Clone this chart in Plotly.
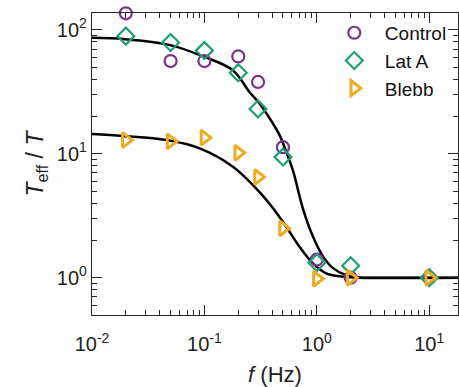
import plotly.graph_objects as go

# ---- data ----
freq = [0.02, 0.05, 0.1, 0.2, 0.3, 0.5, 1, 2, 10]
control = [136, 56, 56, 61, 38, 11.3, 1.4, 1.0, 1.0]
lat_a = [89, 79, 68, 45, 23, 9.4, 1.32, 1.25, 1.0]
blebb = [12.9, 12.6, 13.5, 10.2, 6.5, 2.5, 0.98, 1.0, 1.0]

# fitted curves
fit_hi_f = [0.01, 0.01975, 0.0495, 0.0986, 0.1783, 0.2523, 0.3095, 0.3797, 0.4657,
            0.5159, 0.611, 0.7497, 0.9196, 1.128, 1.384, 1.82, 2.388, 3.594, 18]
fit_hi_y = [86.2, 84.1, 75.3, 60.8, 47.3, 31.4, 25.5, 19.4, 14.2,
            11.3, 7.4, 3.65, 2.17, 1.50, 1.20, 1.05, 1.006, 1.0, 1.0]
fit_lo_f = [0.01, 0.01895, 0.046, 0.0908, 0.1794, 0.3095, 0.4063, 0.5341, 0.7009,
            0.9196, 1.209, 1.697, 2.388, 18]
fit_lo_y = [14.42, 13.89, 12.90, 11.05, 7.86, 4.91, 3.65, 2.58, 1.78,
            1.31, 1.085, 1.02, 1.0, 1.0]

x_tickvals = [0.01, 0.1, 1, 10]
x_ticktext = ["10<sup>-2</sup>", "10<sup>-1</sup>", "10<sup>0</sup>", "10<sup>1</sup>"]
y_tickvals = [1, 10, 100]
y_ticktext = ["10<sup>0</sup>", "10<sup>1</sup>", "10<sup>2</sup>"]

PURPLE = "#7E2F8E"
GREEN = "#1F9E78"
ORANGE = "#EFAA22"
AX = "#262626"
FONT = "Liberation Sans, Arial, Helvetica, sans-serif"

fig = go.Figure()
fig.add_trace(go.Scatter(x=fit_hi_f, y=fit_hi_y, mode="lines", line=dict(color="black", width=2.5, shape="spline"),
                         showlegend=False, hoverinfo="skip"))
fig.add_trace(go.Scatter(x=fit_lo_f, y=fit_lo_y, mode="lines", line=dict(color="black", width=2.5, shape="spline"),
                         showlegend=False, hoverinfo="skip"))
fig.add_trace(go.Scatter(x=freq, y=control, mode="markers", name="\u00a0\u00a0Control", cliponaxis=False,
                         marker=dict(symbol="circle-open", size=12, color=PURPLE, line=dict(width=2.2, color=PURPLE))))
fig.add_trace(go.Scatter(x=freq, y=lat_a, mode="markers", name="\u00a0\u00a0Lat A", cliponaxis=False,
                         marker=dict(symbol="diamond-open", size=13, color=GREEN, line=dict(width=2.2, color=GREEN))))
fig.add_trace(go.Scatter(x=freq, y=blebb, mode="markers", name="\u00a0\u00a0Blebb", cliponaxis=False,
                         marker=dict(symbol="triangle-right-open", size=13, color=ORANGE, line=dict(width=3, color=ORANGE))))

axis_common = dict(
    type="log", showline=True, linecolor=AX, linewidth=1.3, mirror="ticks",
    ticks="inside", ticklen=10, tickwidth=1.3, tickcolor=AX, showgrid=False, zeroline=False,
    tickmode="array", tickfont=dict(size=20, color="#222", family=FONT),
    minor=dict(ticks="inside", ticklen=5, tickwidth=1, tickcolor=AX, dtick="D1", showgrid=False),
)

fig.update_layout(
    width=459, height=387,
    margin=dict(l=92, r=1, t=13, b=72),
    paper_bgcolor="white", plot_bgcolor="white",
    font=dict(family=FONT, color="#222"),
    xaxis=dict(axis_common, range=[-2, 1.256], tickvals=x_tickvals, ticktext=x_ticktext,
               ticklabelstandoff=11,
               title=dict(text="<i>f</i> (Hz)", font=dict(size=22, family=FONT, color="#222"), standoff=12)),
    yaxis=dict(axis_common, range=[-0.301, 2.136], tickvals=y_tickvals, ticktext=y_ticktext,
               title=dict(text="<i>T</i><sub>eff</sub> / <i>T</i>", font=dict(size=23, family=FONT, color="#222"), standoff=6)),
    legend=dict(x=0.662, y=0.997, xanchor="left", yanchor="top", bgcolor="rgba(0,0,0,0)",
                font=dict(size=19, family=FONT, color="#111"), borderwidth=0, tracegroupgap=0),
    showlegend=True,
)

fig.write_html("out.html")
